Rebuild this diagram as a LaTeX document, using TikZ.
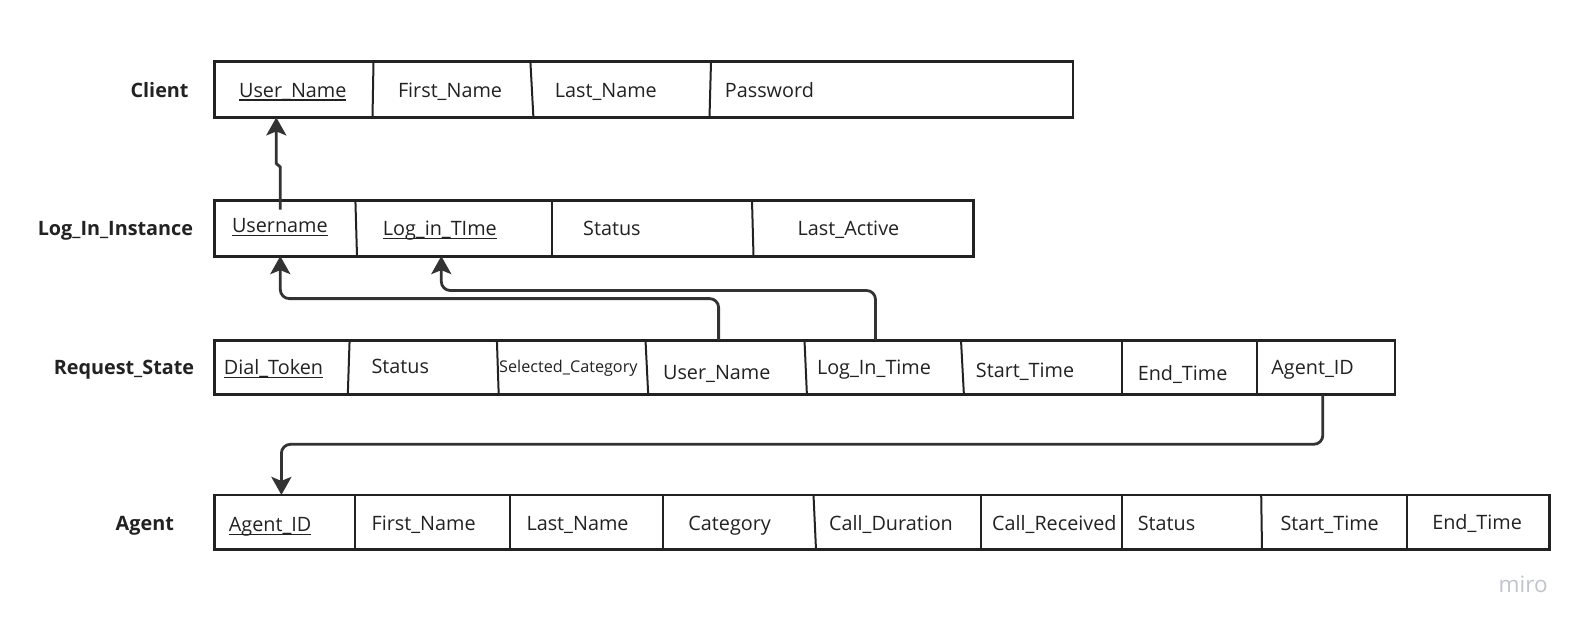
\documentclass[tikz,border=0pt]{standalone}
\usepackage{fontspec}
\setmainfont{Open Sans}
\usetikzlibrary{arrows.meta}
\definecolor{ink}{HTML}{222222}
\definecolor{arr}{HTML}{333333}
\definecolor{wm}{HTML}{C0C4CE}
\newcommand{\keyul}[1]{\setbox0\hbox{#1}\rlap{\rule[-3.5pt]{\wd0}{1.3pt}}\box0}
\tikzset{
  tbl/.style={draw=ink, line width=2.8pt, inner sep=0pt, outer sep=0pt, anchor=north west, fill=white},
  div/.style={draw=ink, line width=2pt},
  fld/.style={anchor=base west, inner sep=0pt, text=ink, font=\fontsize{19.8}{23}\selectfont},
  smallfld/.style={anchor=base west, inner sep=0pt, text=ink, font=\fontsize{16.2}{19}\selectfont},
  ent/.style={anchor=base east, inner sep=0pt, text=ink, font=\bfseries\fontsize{19.8}{23}\selectfont},
  fk/.style={draw=arr, line width=2.8pt, rounded corners=9pt, -{Stealth[length=18pt,width=20pt,inset=4pt]}},
  wmark/.style={anchor=base west, inner sep=0pt, text=wm, font=\fontsize{22.5}{26}\selectfont}
}
\begin{document}
\begin{tikzpicture}[x=1pt,y=-1pt]
\useasboundingbox (0,0) rectangle (1587,630);
\fill[white] (0,0) rectangle (1587,630);

% ---------- tables ----------
\node[tbl, minimum width=858.3pt, minimum height=55.7pt] (client) at (214.6,61.7) {};
\node[tbl, minimum width=759pt, minimum height=55.7pt] (lii) at (214.6,200.4) {};
\node[tbl, minimum width=1180.4pt, minimum height=54.6pt] (rs) at (214.6,340.1) {};
\node[tbl, minimum width=1334.6pt, minimum height=54.7pt] (agent) at (214.6,494.9) {};

% ---------- dividers ----------
\draw[div] (373.5,61.7) -- (372.5,117.4);
\draw[div] (530.4,61.7) -- (533.4,117.4);
\draw[div] (711,61.7) -- (709.5,117.4);

\draw[div] (355.4,200.4) -- (357,256.1);
\draw[div] (551.6,200.4) -- (551.6,256.1);
\draw[div] (752,200.4) -- (753.5,256.1);

\draw[div] (349.6,340.1) -- (347.8,394.7);
\draw[div] (496.9,340.1) -- (498.7,394.7);
\draw[div] (645.5,340.1) -- (648.2,394.7);
\draw[div] (804.5,340.1) -- (806.9,394.7);
\draw[div] (961,340.1) -- (963.9,394.7);
\draw[div] (1122.2,340.1) -- (1122.2,394.7);
\draw[div] (1256.7,340.1) -- (1256.7,394.7);

\draw[div] (354.6,494.9) -- (354.6,549.6);
\draw[div] (509.7,494.9) -- (509.7,549.6);
\draw[div] (663.3,494.9) -- (663.3,549.6);
\draw[div] (813.5,494.9) -- (816,549.6);
\draw[div] (981.2,494.9) -- (981.2,549.6);
\draw[div] (1121.7,494.9) -- (1121.7,549.6);
\draw[div] (1261.2,494.9) -- (1262,549.6);
\draw[div] (1406.9,494.9) -- (1406.9,549.6);

% ---------- entity names ----------
\node[ent] (lclient) at (188.8,97) {Client};
\node[ent] (llii) at (193.3,235.7) {Log\_In\_Instance};
\node[ent] (lrs) at (194.3,374.4) {Request\_State};
\node[ent] (lagent) at (174.1,530.3) {Agent};

% ---------- Client fields ----------
\node[fld] (c1) at (238.9,97) {\keyul{User\_Name}};
\node[fld] (c2) at (397.8,97) {First\_Name};
\node[fld] (c3) at (554.6,97) {Last\_Name};
\node[fld] (c4) at (724.7,97) {Password};

% ---------- Log_In_Instance fields ----------
\node[fld] (l1) at (231.8,232.7) {\keyul{Username}};
\node[fld] (l2) at (382.6,235.7) {\keyul{Log\_in\_TIme}};
\node[fld] (l3) at (583,235.7) {Status};
\node[fld] (l4) at (797.5,235.7) {Last\_Active};

% ---------- Request_State fields ----------
\node[fld] (r1) at (223.7,374.4) {\keyul{Dial\_Token}};
\node[fld] (r2) at (371.4,373.4) {Status};
\node[smallfld] (r3) at (499,372.4) {Selected\_Category};
\node[fld] (r4) at (662.9,379.4) {User\_Name};
\node[fld] (r5) at (816.8,374.4) {Log\_In\_Time};
\node[fld] (r6) at (975.7,377.4) {Start\_Time};
\node[fld] (r7) at (1137.6,380.5) {End\_Time};
\node[fld] (r8) at (1271.2,374.4) {Agent\_ID};

% ---------- Agent fields ----------
\node[fld] (a1) at (228.7,531.3) {\keyul{Agent\_ID}};
\node[fld] (a2) at (371.4,530.3) {First\_Name};
\node[fld] (a3) at (526.3,530.3) {Last\_Name};
\node[fld] (a4) at (688.2,530.3) {Category};
\node[fld] (a5) at (828.9,530.3) {Call\_Duration};
\node[fld] (a6) at (991.9,530.3) {Call\_Received};
\node[fld] (a7) at (1137.6,530.3) {Status};
\node[fld] (a8) at (1280.3,530.3) {Start\_Time};
\node[fld] (a9) at (1432.1,529.2) {End\_Time};

% ---------- watermark ----------
\node[wmark] (miro) at (1498.5,592) {miro};

% ---------- connector end points ----------
\coordinate (fk1s) at (280.3,209.5);
\coordinate (fk1t) at (276.3,117.4);
\coordinate (fk2s) at (718.6,340.1);
\coordinate (fk2t) at (280.3,256.1);
\coordinate (fk3s) at (875.5,340.1);
\coordinate (fk3t) at (441.3,256.1);
\coordinate (fk4s) at (1322.8,394.7);
\coordinate (fk4t) at (281.4,494.9);

% ---------- connectors ----------
\draw[draw=arr, line width=2.8pt, -{Stealth[length=18pt,width=20pt,inset=4pt]}]
  (fk1s) -- (280.3,167) -- (276.3,163.5) -- (fk1t);
\draw[fk] (fk2s) -- (718.6,298.6) -- (280.3,298.6) -- (fk2t);
\draw[fk] (fk3s) -- (875.5,290.5) -- (441.3,290.5) -- (fk3t);
\draw[fk] (fk4s) -- (1322.8,444.3) -- (281.4,444.3) -- (fk4t);
\end{tikzpicture}
\end{document}
